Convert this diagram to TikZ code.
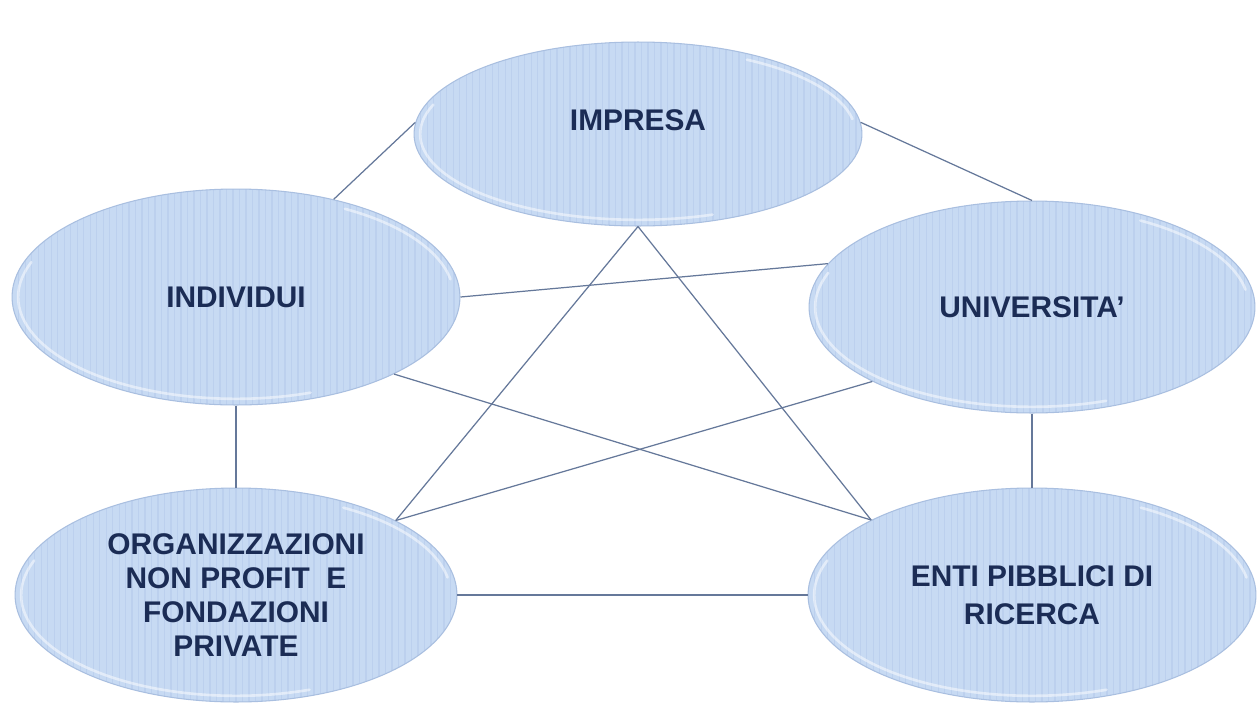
\documentclass[tikz,border=0pt]{standalone}
\usepackage{fontspec}
\setmainfont{Liberation Sans}
\usetikzlibrary{shapes.geometric,calc}
\definecolor{bubfill}{HTML}{C7DAF3}
\definecolor{bubstripe}{HTML}{BCD0EE}
\definecolor{bubedge}{HTML}{A9BFE0}
\definecolor{txt}{HTML}{1B2C55}
\definecolor{linkc}{HTML}{65789A}
\begin{document}
\begin{tikzpicture}[x=0.02cm,y=-0.02cm,
  bub/.style={ellipse, inner sep=0pt, fill=bubfill, draw=bubedge, line width=0.6pt,
    text=txt, align=center, font=\bfseries\fontsize{17}{19.5}\selectfont,
    path picture={
      \foreach \i in {1,...,70}
        \draw[bubstripe, line width=0.6pt]
          ([xshift=\i*0.13cm]path picture bounding box.north west) --
          ([xshift=\i*0.13cm]path picture bounding box.south west);
      \path let \p1=($(path picture bounding box.north east)-(path picture bounding box.center)$) in
        [draw=white, draw opacity=0.5, line width=1.5pt, line cap=round]
        (path picture bounding box.center) ++(160:{\x1-3.5pt} and {\y1-3.5pt})
          arc[start angle=160, end angle=290, x radius=\x1-3.5pt, y radius=\y1-3.5pt]
        (path picture bounding box.center) ++(10:{\x1-3.5pt} and {\y1-3.5pt})
          arc[start angle=10, end angle=60, x radius=\x1-3.5pt, y radius=\y1-3.5pt];
    }},
  link/.style={draw=linkc, line width=0.7pt}]
\useasboundingbox (0,0) rectangle (1259,704);
\fill[white] (0,0) rectangle (1259,704);

\node[bub, minimum width=8.96cm, minimum height=3.68cm, text height=12pt, text depth=16pt] (imp) at (638,134) {IMPRESA};
\node[bub, minimum width=8.96cm, minimum height=4.32cm] (ind) at (236,297) {INDIVIDUI};
\node[bub, minimum width=8.92cm, minimum height=4.24cm] (uni) at (1032,307) {UNIVERSITA’};
\node[bub, minimum width=8.84cm, minimum height=4.28cm, text depth=0pt] (org) at (236,595) {ORGANIZZAZIONI\\NON PROFIT\ \ E\\FONDAZIONI\\PRIVATE};
\node[bub, minimum width=8.96cm, minimum height=4.28cm] (ent) at (1032,595) {ENTI PIBBLICI DI\\[2pt]RICERCA};

\draw[link] (imp.177) -- (ind.45);
\draw[link] (imp.3) -- (uni.90);
\draw[link] (ind.0) -- (uni.168);
\draw[link] (ind.south) -- (org.north);
\draw[link] (uni.south) -- (ent.north);
\draw[link] (org.0) -- (ent.180);
\draw[link] (imp.270) -- (org.25);
\draw[link] (imp.270) -- (ent.155);
\draw[link] (ind.-26) -- (ent.155);
\draw[link] (uni.205) -- (org.25);
\end{tikzpicture}
\end{document}
